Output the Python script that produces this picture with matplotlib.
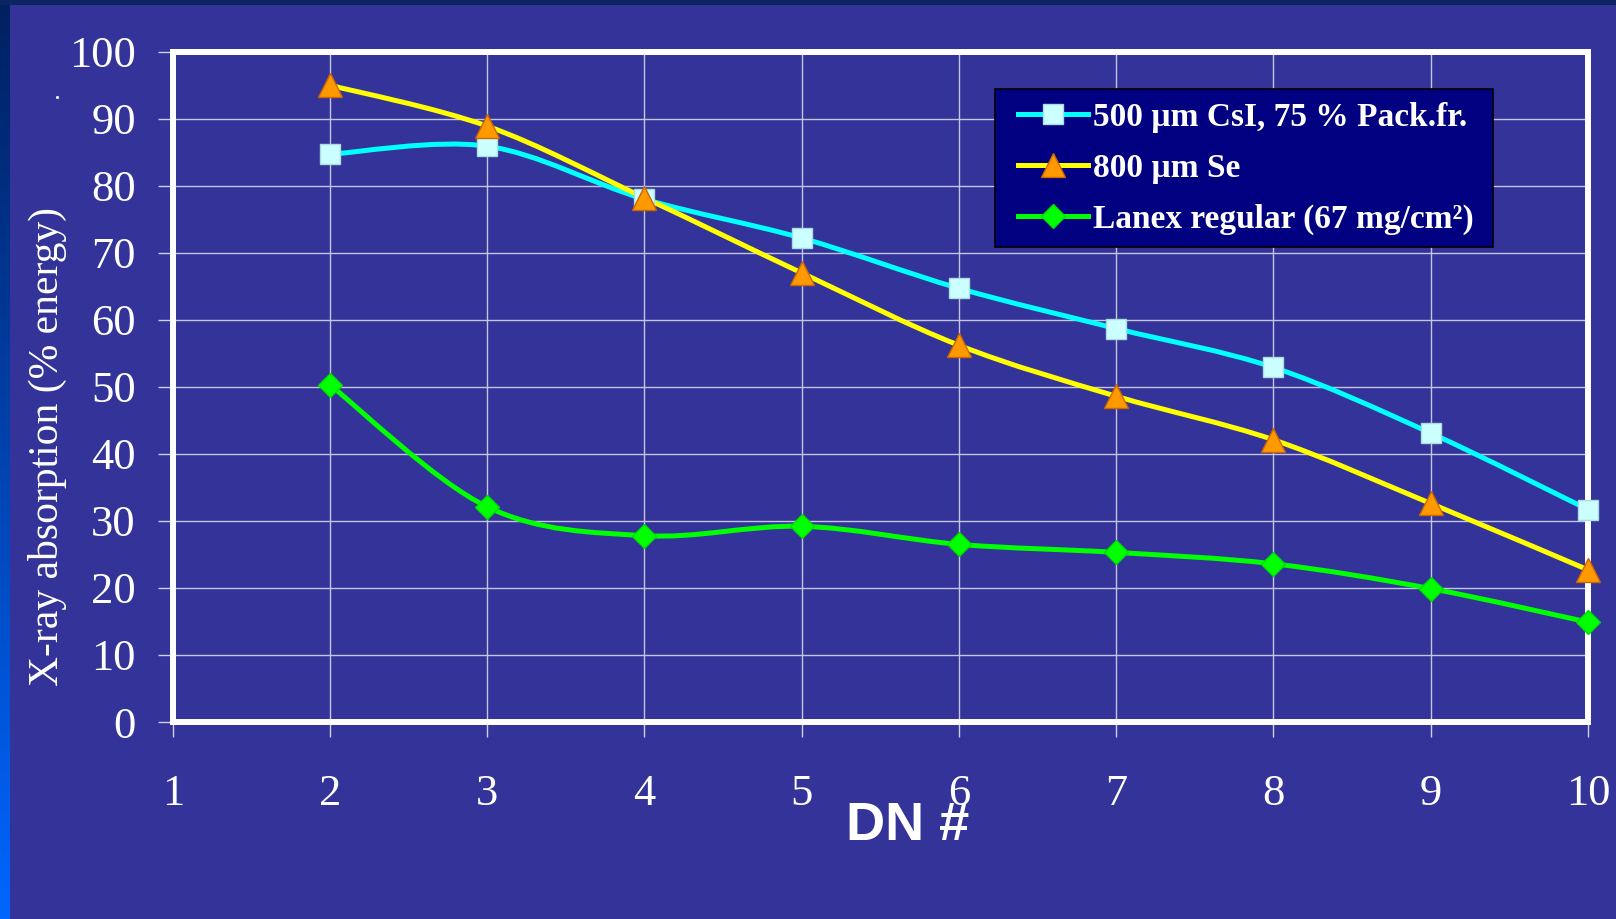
import numpy as np
import matplotlib
matplotlib.use("Agg")
import matplotlib.pyplot as plt
from matplotlib.path import Path
from matplotlib.patches import PathPatch, Rectangle
from matplotlib.lines import Line2D

# data
dn = [2, 3, 4, 5, 6, 7, 8, 9, 10]
csi = [84.7, 85.9, 78.0, 72.2, 64.7, 58.7, 52.9, 43.1, 31.7]
se = [95.0, 88.9, 78.2, 67.0, 56.2, 48.6, 42.1, 32.6, 22.7]
lanex = [50.3, 32.1, 27.8, 29.2, 26.5, 25.3, 23.6, 19.9, 14.9]

labels = ["500 \u00b5m CsI, 75 % Pack.fr.", "800 \u00b5m Se", "Lanex regular (67 mg/cm\u00b2)"]

BG = "#333399"
W, H = 1616, 919

fig = plt.figure(figsize=(W / 100, H / 100), dpi=100, facecolor=BG)

# left gradient strip and top band
grad = fig.add_axes([0, 0, 10 / W, 1])
grad.imshow(np.linspace(0, 1, 256).reshape(-1, 1), aspect="auto",
            cmap=matplotlib.colors.LinearSegmentedColormap.from_list("g", ["#0066ff", "#002060"]),
            origin="lower", extent=[0, 1, 0, 1])
grad.axis("off")
fig.patches.append(Rectangle((0, 1 - 5 / H), 1, 5 / H, transform=fig.transFigure,
                             facecolor="#0a2560", edgecolor="none"))

ax = fig.add_axes([172.7 / W, 1 - 722 / H, (1588 - 172.7) / W, (722 - 51.7) / H])
ax.set_facecolor(BG)
ax.set_xlim(1, 10)
ax.set_ylim(0, 100)
ax.set_xticks(range(1, 11))
ax.set_yticks(range(0, 101, 10))
ax.grid(True, color="#c4c4e4", lw=1)
ax.set_axisbelow(True)
for s in ax.spines.values():
    s.set_color("white")
    s.set_linewidth(4.3)
    s.set_zorder(3)
ax.tick_params(direction="out", length=10.5, width=1, color="#d0d0f0",
               labelcolor="white", labelsize=32)
ax.tick_params(axis="y", pad=16)
ax.tick_params(axis="x", pad=27)
for lab in ax.get_xticklabels() + ax.get_yticklabels():
    lab.set_family("Liberation Serif")


def smooth_path(xs, ys):
    # Excel-style smoothed line: cubic Bezier segments through the data points
    p = np.column_stack([xs, ys]).astype(float)
    verts = [p[0]]
    codes = [Path.MOVETO]
    n = len(p)
    for i in range(n - 1):
        p0 = p[i - 1] if i > 0 else p[i]
        p3 = p[i + 2] if i + 2 < n else p[i + 1]
        c1 = p[i] + (p[i + 1] - p0) / 6.0
        c2 = p[i + 1] - (p3 - p[i]) / 6.0
        verts += [c1, c2, p[i + 1]]
        codes += [Path.CURVE4] * 3
    return Path(verts, codes)


series = [
    (csi, "#00ffff", "s", "#ccffff", "#aadddd", 15),
    (se, "#ffff00", "^", "#ff9900", "#cc6600", 17),
    (lanex, "#00ff00", "D", "#00ff00", "#00dd00", 12),
]
handles = []
for vals, lc, mk, mfc, mec, ms in series:
    ax.add_patch(PathPatch(smooth_path(dn, vals), fill=False, edgecolor=lc,
                           lw=3.6, zorder=4, clip_on=False))
    ax.plot(dn, vals, linestyle="none", marker=mk, markersize=ms,
            markerfacecolor=mfc, markeredgecolor=mec, markeredgewidth=1,
            zorder=5, clip_on=False)
    handles.append(Line2D([], [], color=lc, lw=3.6, marker=mk, markersize=ms,
                          markerfacecolor=mfc, markeredgecolor=mec))

# legend box drawn separately so the padding can differ per side
fig.patches.append(Rectangle((995 / W, 1 - 247 / H), (1493 - 995) / W, (247 - 89) / H,
                             transform=fig.transFigure, facecolor="#000080",
                             edgecolor="black", lw=1.2, zorder=10))
leg = fig.legend(handles, labels, loc="upper left",
                 bbox_to_anchor=(1018 / W, 1 - 102 / H), borderaxespad=0,
                 prop={"family": "Liberation Serif", "weight": "bold", "size": 24},
                 frameon=False, handlelength=2.1, handletextpad=0.15,
                 labelspacing=0.6, borderpad=0)
leg.set_zorder(11)
for t in leg.get_texts():
    t.set_color("white")

fig.text(47 / W, 1 - 446 / H, "X-ray absorption (% energy)", rotation=90,
         ha="center", va="center", color="white", fontsize=30,
         family="Liberation Serif")
fig.text(57 / W, 1 - 99 / H, ".", ha="center", va="baseline", color="white",
         fontsize=20, family="Liberation Serif")
fig.text(908 / W, 1 - 826 / H, "DN #", ha="center", va="center", color="white",
         fontsize=39, fontweight="bold", family="Liberation Sans")

fig.savefig("out.png", dpi=100, facecolor=BG)
